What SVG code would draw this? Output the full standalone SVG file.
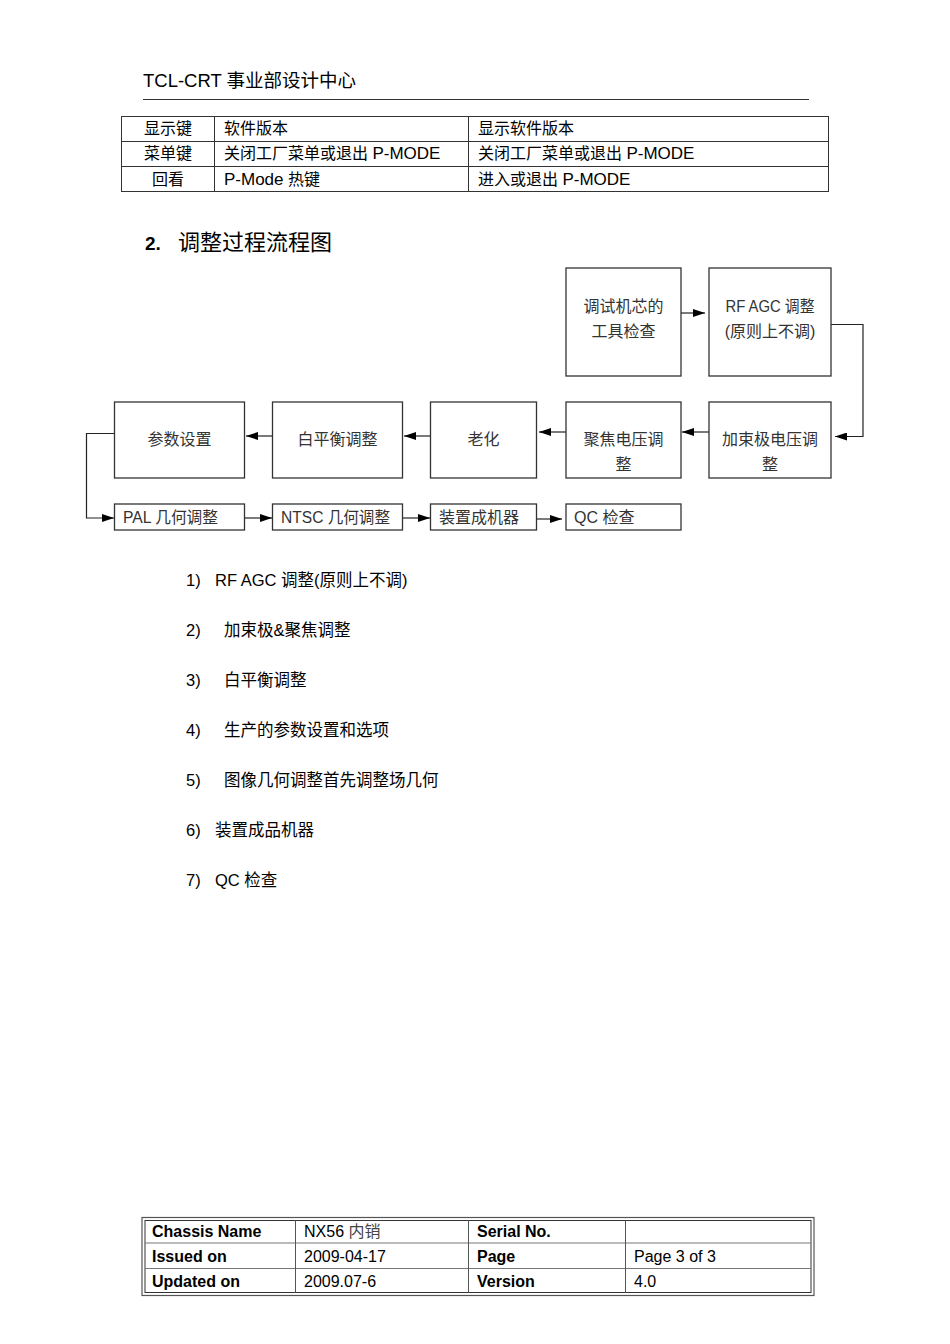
<svg xmlns="http://www.w3.org/2000/svg" width="950" height="1344" viewBox="0 0 950 1344">
<style>
text{font-family:"Liberation Sans","Noto Sans CJK SC",sans-serif;fill:#000}
.c{font-size:16px;fill:#333}
.t{font-size:16px}
.l{font-size:16.5px}
.p{font-size:17px}
.n{font-family:"Liberation Sans Narrow","Liberation Sans","Noto Sans CJK SC",sans-serif}
.box{fill:#fff;stroke:#333;stroke-width:1.3}
.ln{fill:none;stroke:#222;stroke-width:1.2}
.tb{fill:none;stroke:#333;stroke-width:1}
.b{font-weight:bold}
</style>
<defs>
<marker id="ah" markerWidth="12" markerHeight="8" refX="12" refY="4" orient="auto" markerUnits="userSpaceOnUse">
<path d="M0,0 L12,4 L0,8 z" fill="#000"/>
</marker>
</defs>
<rect width="950" height="1344" fill="#fff"/>
<g id="header">
<text x="143" y="87" style="font-size:18.5px">TCL-CRT 事业部设计中心</text>
<line x1="143" y1="99.5" x2="809" y2="99.5" stroke="#333" stroke-width="1.2"/>
</g>
<g id="top-table">
<rect x="121.5" y="116.5" width="707" height="75" class="tb"/>
<line x1="121.5" y1="141.5" x2="828.5" y2="141.5" class="tb"/>
<line x1="121.5" y1="166.5" x2="828.5" y2="166.5" class="tb"/>
<line x1="214.5" y1="116.5" x2="214.5" y2="191.5" class="tb"/>
<line x1="468.5" y1="116.5" x2="468.5" y2="191.5" class="tb"/>
<text x="168" y="134" class="t" text-anchor="middle">显示键</text>
<text x="168" y="159" class="t" text-anchor="middle">菜单键</text>
<text x="168" y="185" class="t" text-anchor="middle">回看</text>
<text x="224" y="134" class="t">软件版本</text>
<text x="224" y="159" class="t">关闭工厂菜单或退出 <tspan class="p">P-MODE</tspan></text>
<text x="224" y="185" class="t"><tspan class="p">P-Mode</tspan>  热键</text>
<text x="478" y="134" class="t">显示软件版本</text>
<text x="478" y="159" class="t">关闭工厂菜单或退出 <tspan class="p">P-MODE</tspan></text>
<text x="478" y="185" class="t">进入或退出 <tspan class="p">P-MODE</tspan></text>
</g>
<g id="title">
<text x="145" y="250" style="font-size:19px" class="b">2.</text>
<text x="178" y="250" style="font-size:22px">调整过程流程图</text>
</g>
<g id="connectors">
<line x1="675" y1="313" x2="705" y2="313" class="ln" marker-end="url(#ah)"/>
<polyline points="831,324.5 863,324.5 863,436.5 835,436.5" class="ln" marker-end="url(#ah)"/>
<line x1="709" y1="432" x2="682" y2="432" class="ln" marker-end="url(#ah)"/>
<line x1="566" y1="432" x2="539" y2="432" class="ln" marker-end="url(#ah)"/>
<line x1="430" y1="436" x2="404" y2="436" class="ln" marker-end="url(#ah)"/>
<line x1="272" y1="436" x2="246" y2="436" class="ln" marker-end="url(#ah)"/>
<polyline points="114,433.5 86.5,433.5 86.5,518 114,518" class="ln" marker-end="url(#ah)"/>
<line x1="244" y1="518" x2="272" y2="518" class="ln" marker-end="url(#ah)"/>
<line x1="402" y1="518" x2="430" y2="518" class="ln" marker-end="url(#ah)"/>
<line x1="537" y1="519" x2="562" y2="519" class="ln" marker-end="url(#ah)"/>
</g>
<g id="n-check">
<rect x="566" y="268" width="115" height="108" class="box"/>
<text x="623.5" y="312" class="c" text-anchor="middle">调试机芯的</text>
<text x="623.5" y="337" class="c" text-anchor="middle">工具检查</text>
</g>
<g id="n-rfagc">
<rect x="709" y="268" width="122" height="108" class="box"/>
<text x="770" y="312" class="c n" text-anchor="middle" textLength="89" lengthAdjust="spacingAndGlyphs">RF AGC 调整</text>
<text x="770" y="337" class="c n" text-anchor="middle">(原则上不调)</text>
</g>
<g id="n-param">
<rect x="114.5" y="402" width="130" height="76" class="box"/>
<text x="179.5" y="445" class="c" text-anchor="middle">参数设置</text>
</g>
<g id="n-wb">
<rect x="272.5" y="402" width="130" height="76" class="box"/>
<text x="337.5" y="445" class="c" text-anchor="middle">白平衡调整</text>
</g>
<g id="n-aging">
<rect x="430.5" y="402" width="106" height="76" class="box"/>
<text x="483.5" y="445" class="c" text-anchor="middle">老化</text>
</g>
<g id="n-focus">
<rect x="566" y="402" width="115" height="76" class="box"/>
<text x="623.5" y="445" class="c" text-anchor="middle">聚焦电压调</text>
<text x="623.5" y="470" class="c" text-anchor="middle">整</text>
</g>
<g id="n-g2">
<rect x="709" y="402" width="122" height="76" class="box"/>
<text x="770" y="445" class="c" text-anchor="middle">加束极电压调</text>
<text x="770" y="470" class="c" text-anchor="middle">整</text>
</g>
<g id="n-pal">
<rect x="114.5" y="504" width="130" height="26" class="box"/>
<text x="123" y="523" class="c n" textLength="95" lengthAdjust="spacingAndGlyphs">PAL 几何调整</text>
</g>
<g id="n-ntsc">
<rect x="272.5" y="504" width="130" height="26" class="box"/>
<text x="281" y="523" class="c n" textLength="109" lengthAdjust="spacingAndGlyphs">NTSC 几何调整</text>
</g>
<g id="n-assemble">
<rect x="430.5" y="504" width="106" height="26" class="box"/>
<text x="439" y="523" class="c">装置成机器</text>
</g>
<g id="n-qc">
<rect x="566" y="504" width="115" height="26" class="box"/>
<text x="574" y="523" class="c n">QC 检查</text>
</g>
<g id="list">
<text x="186" y="586" class="l">1)</text><text x="215" y="586" class="l">RF AGC 调整(原则上不调)</text>
<text x="186" y="636" class="l">2)</text><text x="224" y="636" class="l">加束极&amp;聚焦调整</text>
<text x="186" y="686" class="l">3)</text><text x="224" y="686" class="l">白平衡调整</text>
<text x="186" y="736" class="l">4)</text><text x="224" y="736" class="l">生产的参数设置和选项</text>
<text x="186" y="786" class="l">5)</text><text x="224" y="786" class="l">图像几何调整首先调整场几何</text>
<text x="186" y="836" class="l">6)</text><text x="215" y="836" class="l">装置成品机器</text>
<text x="186" y="886" class="l">7)</text><text x="215" y="886" class="l">QC 检查</text>
</g>
<g id="footer-table">
<rect x="142" y="1217.5" width="672" height="78" fill="none" stroke="#555" stroke-width="1.2"/>
<rect x="145" y="1220.5" width="666" height="72" fill="none" stroke="#333" stroke-width="1"/>
<line x1="145" y1="1243" x2="811" y2="1243" stroke="#777" stroke-width="1"/>
<line x1="145" y1="1268.5" x2="811" y2="1268.5" stroke="#777" stroke-width="1"/>
<line x1="295.5" y1="1220.5" x2="295.5" y2="1292.5" stroke="#555" stroke-width="1"/>
<line x1="468.5" y1="1220.5" x2="468.5" y2="1292.5" stroke="#555" stroke-width="1"/>
<line x1="625.5" y1="1220.5" x2="625.5" y2="1292.5" stroke="#555" stroke-width="1"/>
<text x="152" y="1237" class="t b">Chassis Name</text>
<text x="152" y="1262" class="t b">Issued on</text>
<text x="152" y="1287" class="t b">Updated on</text>
<text x="304" y="1237" class="t">NX56  <tspan fill="#444">内销</tspan></text>
<text x="304" y="1262" class="t">2009-04-17</text>
<text x="304" y="1287" class="t">2009.07-6</text>
<text x="477" y="1237" class="t b">Serial No.</text>
<text x="477" y="1262" class="t b">Page</text>
<text x="477" y="1287" class="t b">Version</text>
<text x="634" y="1262" class="t">Page 3 of 3</text>
<text x="634" y="1287" class="t">4.0</text>
</g>
</svg>
